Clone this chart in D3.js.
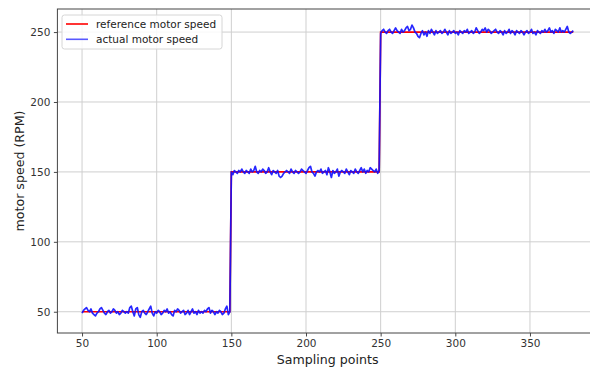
<!DOCTYPE html>
<html>
<head>
<meta charset="utf-8">
<script src="https://cdn.jsdelivr.net/npm/d3@7"></script>
<style>
  html, body { margin: 0; padding: 0; background: #fff; }
  svg { display: block; font-family: "DejaVu Sans", sans-serif; }
</style>
</head>
<body>
<svg id="chart" width="590" height="369"></svg>
<script>
// ---- data ----
const xTicks = [50, 100, 150, 200, 250, 300, 350];
const yTicks = [50, 100, 150, 200, 250];

const refBreaks = [50, 150, 250, 379];
const refLevels = [50, 150, 250];

const actualStart = 50;
const actualSpeed = [
  49, 51, 52, 53, 51, 50, 52, 49, 48, 47,
  49, 50, 52, 53, 51, 49, 48, 50, 51, 49,
  50, 52, 51, 49, 50, 48, 49, 51, 50, 49,
  50, 49, 53, 54, 50, 47, 52, 53, 48, 46,
  50, 51, 49, 48, 50, 52, 54, 49, 47, 50,
  49, 51, 50, 48, 49, 51, 50, 52, 49, 50,
  48, 47, 51, 50, 52, 51, 49, 50, 51, 48,
  49, 51, 48, 50, 52, 49, 50, 48, 51, 49,
  50, 49, 51, 50, 52, 53, 49, 51, 50, 48,
  50, 49, 51, 50, 48, 49, 52, 54, 48, 50,
  150, 148, 151, 150, 149, 151, 150, 152, 150, 149,
  151, 150, 149, 152, 150, 151, 154, 150, 149, 151,
  150, 152, 151, 149, 150, 153, 150, 148, 151, 150,
  149, 151, 147, 146, 147, 149, 150, 151, 150, 149,
  152, 150, 149, 151, 150, 149, 150, 152, 151, 150,
  149, 151, 153, 154, 150, 149, 147, 150, 151, 150,
  152, 149, 150, 151, 148, 153, 150, 146, 151, 149,
  150, 152, 147, 150, 151, 150, 149, 152, 150, 148,
  151, 150, 149, 152, 150, 149, 151, 153, 150, 152,
  149, 151, 150, 153, 152, 151, 150, 152, 149, 151,
  249, 251, 252, 250, 249, 251, 252, 250, 249, 251,
  253, 251, 250, 249, 252, 250, 251, 253, 254, 251,
  252, 255, 253, 250, 249, 247, 246, 249, 251, 248,
  250, 247, 251, 249, 252, 250, 248, 251, 249, 250,
  251, 249, 250, 252, 250, 248, 251, 249, 250, 251,
  249, 250, 248, 251, 250, 249, 251, 250, 252, 249,
  250, 251, 249, 250, 253, 251, 249, 250, 252, 251,
  253, 250, 252, 251, 249, 250, 251, 252, 250, 249,
  251, 250, 248, 251, 249, 250, 252, 249, 251, 250,
  248, 251, 250, 249, 251, 250, 248, 250, 251, 249,
  250, 252, 249, 250, 248, 251, 250, 249, 251, 250,
  252, 250, 251, 253, 250, 251, 249, 252, 251, 250,
  253, 250, 251, 250, 252, 254, 250, 249, 250, 251
];

const legendLabels = ["reference motor speed", "actual motor speed"];
const xLabel = "Sampling points";
const yLabel = "motor speed (RPM)";

// ---- layout ----
const plot = { left: 57.4, right: 597.9, top: 9, bottom: 333 };
const x = d3.scaleLinear().domain([33.5, 395.5]).range([plot.left, plot.right]);
const y = d3.scaleLinear().domain([34.8, 266.5]).range([plot.bottom, plot.top]);

const svg = d3.select("#chart");

// grid
const grid = svg.append("g");
grid.selectAll("line.vx").data(xTicks).join("line")
  .attr("x1", d => x(d)).attr("x2", d => x(d))
  .attr("y1", plot.top).attr("y2", plot.bottom)
  .attr("stroke", "#cfcfcf").attr("stroke-width", 1);
grid.selectAll("line.hy").data(yTicks).join("line")
  .attr("y1", d => y(d)).attr("y2", d => y(d))
  .attr("x1", plot.left).attr("x2", plot.right)
  .attr("stroke", "#cfcfcf").attr("stroke-width", 1);

// reference line points
const refPts = [];
refLevels.forEach((lv, i) => {
  const s = refBreaks[i];
  const e = i < refLevels.length - 1 ? refBreaks[i + 1] - 1 : refBreaks[i + 1];
  refPts.push([s, lv], [e, lv]);
});
const actualPts = actualSpeed.map((v, i) => [actualStart + i, v]);

const line = d3.line().x(d => x(d[0])).y(d => y(d[1]));

svg.append("path").datum(refPts)
  .attr("d", line).attr("fill", "none")
  .attr("stroke", "#ff0000").attr("stroke-width", 1.7);
svg.append("path").datum(actualPts)
  .attr("d", line).attr("fill", "none")
  .attr("stroke", "#1010ff").attr("stroke-opacity", 0.9).attr("stroke-width", 1.7)
  .attr("stroke-linejoin", "round");

// axes
const xAxis = d3.axisBottom(x).tickValues(xTicks).tickSize(3.5).tickPadding(3.5);
const yAxis = d3.axisLeft(y).tickValues(yTicks).tickSize(3.5).tickPadding(3.5);

const gx = svg.append("g").attr("transform", `translate(0,${plot.bottom})`).call(xAxis);
const gy = svg.append("g").attr("transform", `translate(${plot.left},0)`).call(yAxis);
[gx, gy].forEach(g => {
  g.select(".domain").remove();
  g.selectAll(".tick line").attr("stroke", "#333").attr("stroke-width", 0.9);
  g.selectAll(".tick text").attr("fill", "#333").attr("font-size", 10.5)
    .attr("font-family", "DejaVu Sans, sans-serif");
});

// spines
svg.append("rect")
  .attr("x", plot.left).attr("y", plot.top)
  .attr("width", plot.right - plot.left).attr("height", plot.bottom - plot.top)
  .attr("fill", "none").attr("stroke", "#444").attr("stroke-width", 1);

// axis labels
svg.append("text")
  .attr("x", (plot.left + plot.right) / 2).attr("y", 364)
  .attr("text-anchor", "middle").attr("font-size", 12.6).attr("fill", "#222")
  .text(xLabel);
svg.append("text")
  .attr("transform", `translate(24,${(plot.top + plot.bottom) / 2}) rotate(-90)`)
  .attr("text-anchor", "middle").attr("font-size", 12.6).attr("fill", "#222")
  .text(yLabel);

// legend
const lg = svg.append("g");
lg.append("rect")
  .attr("x", 62).attr("y", 15).attr("width", 160).attr("height", 34)
  .attr("rx", 2.5).attr("fill", "#fff").attr("fill-opacity", 0.85)
  .attr("stroke", "#d6d6d6").attr("stroke-width", 1);
const legendColors = ["#ff0000", "#0000ff"];
const legendOpac = [1, 0.65];
legendLabels.forEach((lab, i) => {
  const yy = 24 + i * 15.3;
  lg.append("line").attr("x1", 66).attr("x2", 88).attr("y1", yy).attr("y2", yy)
    .attr("stroke", legendColors[i]).attr("stroke-opacity", legendOpac[i]).attr("stroke-width", 1.6);
  lg.append("text").attr("x", 96).attr("y", yy).attr("dy", "0.35em")
    .attr("font-size", 10.5).attr("fill", "#222").text(lab);
});
</script>
</body>
</html>
